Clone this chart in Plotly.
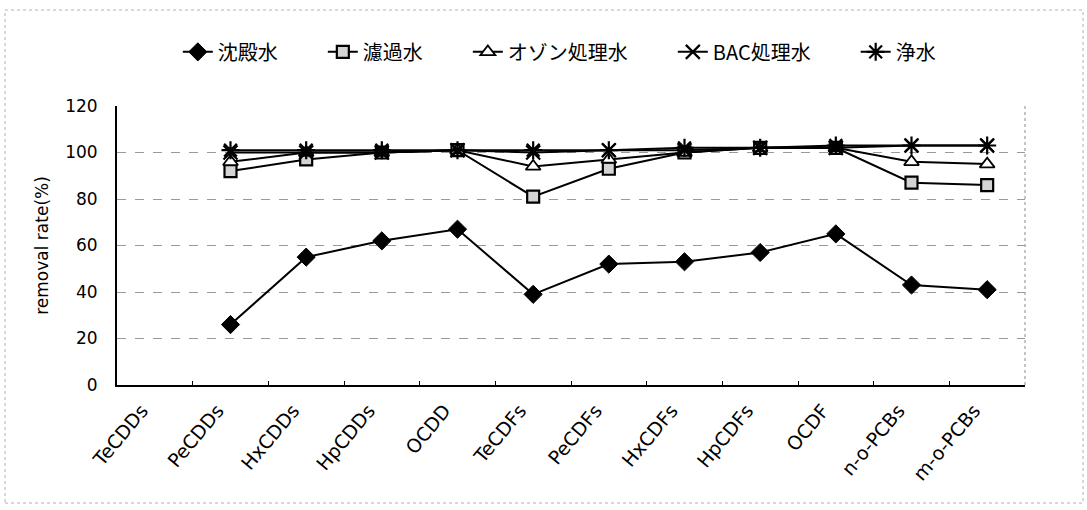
import plotly.graph_objects as go

# Congener groups on the x axis
categories = ["TeCDDs", "PeCDDs", "HxCDDs", "HpCDDs", "OCDD", "TeCDFs",
              "PeCDFs", "HxCDFs", "HpCDFs", "OCDF", "n-o-PCBs", "m-o-PCBs"]

# Removal rate (%) after each treatment step
sedimented = [None, 26, 55, 62, 67, 39, 52, 53, 57, 65, 43, 41]       # 沈殿水
filtered = [None, 92, 97, 100, 101, 81, 93, 100, 102, 102, 87, 86]    # 濾過水
ozonated = [None, 96, 100, 100, 101, 94, 97, 100, 102, 102, 96, 95]   # オゾン処理水
bac_treated = [None, 100, 100, 100, 101, 100, 101, 101, 102, 102, 103, 103]  # BAC処理水
finished = [None, 101, 101, 101, 101, 101, 101, 102, 102, 103, 103, 103]     # 浄水

y_ticks = [0, 20, 40, 60, 80, 100, 120]

# trailing full-width spaces widen the gap between legend entries
PAD = "\u3000\u3000"

series = [
    ("沈殿水", sedimented, dict(symbol="diamond", size=14, color="black",
                              line=dict(color="black", width=1))),
    ("濾過水", filtered, dict(symbol="square", size=12, color="#d4d4d4",
                             line=dict(color="black", width=2.2))),
    ("オゾン処理水", ozonated, dict(symbol="triangle-up", size=13, color="white",
                                line=dict(color="black", width=1.8))),
    ("BAC処理水", bac_treated, dict(symbol="x-thin-open", size=14, color="black",
                                   line=dict(color="black", width=2.2))),
    ("浄水", finished, dict(symbol="asterisk-open", size=15, color="black",
                          line=dict(color="black", width=2.2))),
]

fig = go.Figure()
for name, values, marker in series:
    fig.add_trace(go.Scatter(
        x=categories, y=values, name=name + PAD, mode="lines+markers",
        line=dict(color="black", width=2), marker=marker,
        connectgaps=False,
    ))

latin = "DejaVu Sans, Noto Sans CJK JP, sans-serif"

fig.update_layout(
    width=1087, height=510,
    margin=dict(l=117, r=62, t=106, b=125),
    paper_bgcolor="white", plot_bgcolor="white",
    font=dict(family=latin, size=16, color="black"),
    showlegend=True,
    legend=dict(
        orientation="h", x=0.067, xanchor="left", y=1.194, yanchor="middle",
        font=dict(family="Noto Sans CJK JP, DejaVu Sans, sans-serif", size=20, color="black"),
        itemwidth=30, tracegroupgap=0, bgcolor="rgba(0,0,0,0)",
    ),
    xaxis=dict(
        type="category", categoryorder="array", categoryarray=categories,
        range=[-0.5, len(categories) - 0.5],
        showline=True, linecolor="black", linewidth=2,
        showgrid=False, zeroline=False,
        ticks="inside", tickson="boundaries", ticklen=4, tickcolor="black",
        tickangle=-50, ticklabelstandoff=5, ticklabelshift=-13,
        tickfont=dict(family=latin, size=19, color="black"),
    ),
    yaxis=dict(
        range=[0, 120], tickvals=y_ticks,
        showline=True, linecolor="black", linewidth=2,
        showgrid=True, gridcolor="#9a9a9a", gridwidth=1, griddash="dash",
        zeroline=False, ticks="", ticklabelstandoff=14,
        tickfont=dict(family=latin, size=17, color="black"),
        title=dict(text="removal rate(%)", standoff=12,
                   font=dict(family=latin, size=17, color="black")),
    ),
    shapes=[
        # dotted right edge of the plot area
        dict(type="line", xref="x domain", yref="y domain", x0=1, x1=1, y0=0, y1=1,
             line=dict(color="#8a8a8a", width=1, dash="dot"), layer="below"),
        # faint outer frame of the chart area
        dict(type="rect", xref="paper", yref="paper",
             x0=-0.1233, x1=1.0639, y0=-0.423, y1=1.344,
             line=dict(color="#b0b0b0", width=1, dash="dot"), layer="below"),
    ],
)

fig.write_html("out.html")
